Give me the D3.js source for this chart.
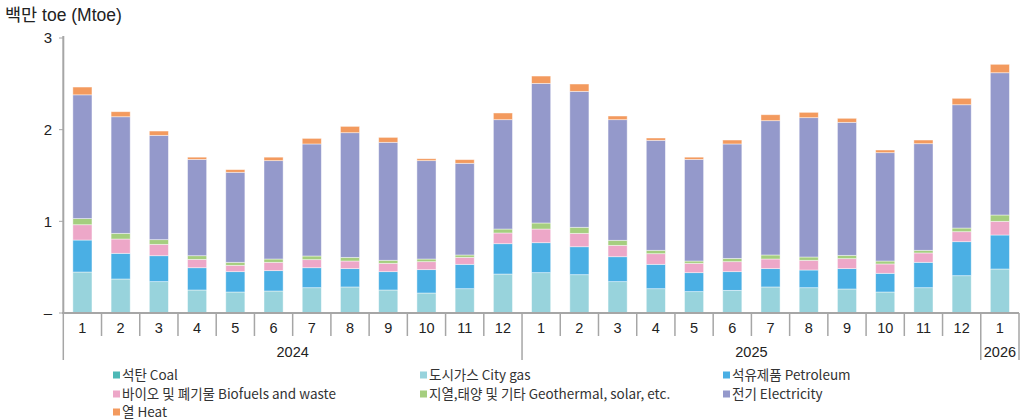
<!DOCTYPE html>
<html>
<head>
<meta charset="utf-8">
<script src="https://cdn.jsdelivr.net/npm/d3@7"></script>
<style>
    body { margin: 0; background: #fff; }
    svg text { font-family: "Noto Sans CJK KR", "Noto Sans", sans-serif; }
    svg text.num { font-family: "Liberation Sans", "Noto Sans CJK KR", sans-serif; }
</style>
</head>
<body>
<svg id="chart" width="1025" height="420"></svg>
<script>
// month labels and which year each belongs to
const months = ["1","2","3","4","5","6","7","8","9","10","11","12",
                "1","2","3","4","5","6","7","8","9","10","11","12","1"];
const years = ["2024","2025","2026"];
const yearSpans = [12, 12, 1];

// series values, Mtoe
const coal        = [0,0,0,0,0,0,0,0,0,0,0,0, 0,0,0,0,0,0,0,0,0,0,0,0, 0];
const cityGas     = [0.447,0.371,0.342,0.251,0.229,0.240,0.276,0.284,0.251,0.218,0.265,0.425,
                     0.440,0.418,0.342,0.265,0.233,0.247,0.284,0.276,0.262,0.229,0.276,0.407, 0.480];
const petroleum   = [0.349,0.280,0.283,0.243,0.222,0.222,0.218,0.200,0.200,0.255,0.266,0.331,
                     0.327,0.305,0.272,0.266,0.207,0.204,0.200,0.193,0.222,0.204,0.277,0.371, 0.371];
const biofuels    = [0.167,0.156,0.124,0.091,0.069,0.091,0.088,0.083,0.091,0.087,0.076,0.117,
                     0.149,0.146,0.124,0.116,0.102,0.109,0.105,0.106,0.109,0.102,0.102,0.109, 0.149];
const geothermal  = [0.067,0.062,0.051,0.040,0.033,0.036,0.040,0.040,0.033,0.029,0.026,0.043,
                     0.066,0.066,0.055,0.037,0.025,0.036,0.044,0.036,0.036,0.032,0.029,0.040, 0.069];
const electricity = [1.350,1.272,1.138,1.051,0.982,1.073,1.222,1.360,1.287,1.073,1.000,1.193,
                     1.523,1.483,1.316,1.200,1.109,1.248,1.465,1.520,1.451,1.182,1.163,1.345, 1.552];
const heat        = [0.085,0.055,0.047,0.024,0.029,0.038,0.061,0.069,0.054,0.021,0.040,0.073,
                     0.080,0.080,0.040,0.025,0.024,0.043,0.065,0.058,0.044,0.029,0.040,0.070, 0.092];

const seriesNames = ["석탄 Coal", "도시가스 City gas", "석유제품 Petroleum",
                     "바이오 및 폐기물 Biofuels and waste", "지열,태양 및 기타 Geothermal, solar, etc.",
                     "전기 Electricity", "열 Heat"];
const seriesColors = ["#4cb8b6", "#98d3dc", "#4aafe4", "#eda7c8", "#a5ce7f", "#9499cb", "#f39a5e"];
const yTicks = [0, 1, 2, 3];
const yTickLabels = ["–", "1", "2", "3"];

const seriesData = [coal, cityGas, petroleum, biofuels, geothermal, electricity, heat];

// build rows for d3.stack
const rows = months.map(function(m, i) {
    let r = {idx: i};
    seriesNames.forEach(function(s, k) { r[s] = seriesData[k][i]; });
    return r;
});

const svg = d3.select("#chart");
const AXIS_COLOR = "#a6a6a6";
const RIGHT = 1019;

const x = d3.scaleBand()
    .domain(d3.range(months.length))
    .range([63.3, RIGHT])
    .paddingInner(0.5)
    .paddingOuter(0.25);

const y = d3.scaleLinear()
    .domain([0, 3])
    .range([313, 38]);

const stacked = d3.stack().keys(seriesNames)(rows);

// bars
svg.append("g")
    .selectAll("g")
    .data(stacked)
    .join("g")
    .attr("fill", function(d, i) { return seriesColors[i]; })
    .selectAll("rect")
    .data(function(d) { return d; })
    .join("rect")
    .attr("x", function(d) { return x(d.data.idx); })
    .attr("width", x.bandwidth())
    .attr("y", function(d) { return y(d[1]); })
    .attr("height", function(d) { return Math.max(0, y(d[0]) - y(d[1])); })
    .style("stroke", "#ffffff")
    .style("stroke-opacity", 0.55)
    .style("stroke-width", 0.8);

// y axis
const yAxis = svg.append("g");
yAxis.append("line")
    .attr("x1", 63.3).attr("x2", 63.3)
    .attr("y1", y(3) - 2).attr("y2", y(0))
    .attr("stroke", AXIS_COLOR).attr("stroke-width", 2);

yAxis.selectAll("line.tick")
    .data(yTicks)
    .join("line")
    .attr("class", "tick")
    .attr("x1", 59).attr("x2", 63.3)
    .attr("y1", function(d) { return y(d); })
    .attr("y2", function(d) { return y(d); })
    .attr("stroke", AXIS_COLOR).attr("stroke-width", 1);

yAxis.selectAll("text")
    .data(yTicks)
    .join("text")
    .attr("class", "num")
    .attr("x", 52)
    .attr("y", function(d) { return y(d); })
    .attr("dy", "0.35em")
    .attr("text-anchor", "end")
    .attr("fill", "#222")
    .style("font-size", "15px")
    .text(function(d, i) { return yTickLabels[i]; });

// x axis
const xAxis = svg.append("g");
xAxis.append("line")
    .attr("x1", 62).attr("x2", RIGHT)
    .attr("y1", y(0)).attr("y2", y(0))
    .attr("stroke", AXIS_COLOR).attr("stroke-width", 2);

// month separators, longer ones at year boundaries
const step = x.step();
const leftEdge = function(i) { return i < months.length ? x(i) - (step - x.bandwidth()) / 2 : RIGHT; };

let yearBoundaries = [0];
yearSpans.reduce(function(acc, n) { yearBoundaries.push(acc + n); return acc + n; }, 0);

xAxis.selectAll("line.sep")
    .data(d3.range(months.length + 1))
    .join("line")
    .attr("class", "sep")
    .attr("x1", leftEdge)
    .attr("x2", leftEdge)
    .attr("y1", y(0))
    .attr("y2", function(i) { return yearBoundaries.includes(i) ? 360 : 336; })
    .attr("stroke", AXIS_COLOR).attr("stroke-width", 1.5);

xAxis.selectAll("text.month")
    .data(months)
    .join("text")
    .attr("class", "num")
    .attr("x", function(d, i) { return x(i) + x.bandwidth() / 2; })
    .attr("y", 333)
    .attr("text-anchor", "middle")
    .attr("fill", "#222")
    .style("font-size", "14.5px")
    .text(function(d) { return d; });

xAxis.selectAll("text.year")
    .data(years)
    .join("text")
    .attr("class", "num")
    .attr("x", function(d, i) {
        return (leftEdge(yearBoundaries[i]) + leftEdge(yearBoundaries[i + 1])) / 2;
    })
    .attr("y", 357)
    .attr("text-anchor", "middle")
    .attr("fill", "#222")
    .style("font-size", "14.5px")
    .text(function(d) { return d; });

// unit title
svg.append("text")
    .attr("class", "num")
    .attr("x", 5).attr("y", 21)
    .attr("fill", "#222")
    .style("font-size", "17.5px")
    .text("백만 toe (Mtoe)");

// legend
const legendCols = [113, 420, 723];
const legendRows = [375, 394, 412];
const legend = svg.append("g")
    .selectAll("g")
    .data(seriesNames)
    .join("g")
    .attr("transform", function(d, i) {
        return `translate(${[legendCols[i % 3], legendRows[Math.floor(i / 3)]]})`;
    });

legend.append("rect")
    .attr("x", 0).attr("y", -3.5)
    .attr("width", 7).attr("height", 7)
    .attr("fill", function(d, i) { return seriesColors[i]; });

legend.append("text")
    .attr("x", 9).attr("y", 0)
    .attr("dy", "0.35em")
    .attr("fill", "#333")
    .style("font-size", "13.5px")
    .text(function(d) { return d; });
</script>
</body>
</html>
